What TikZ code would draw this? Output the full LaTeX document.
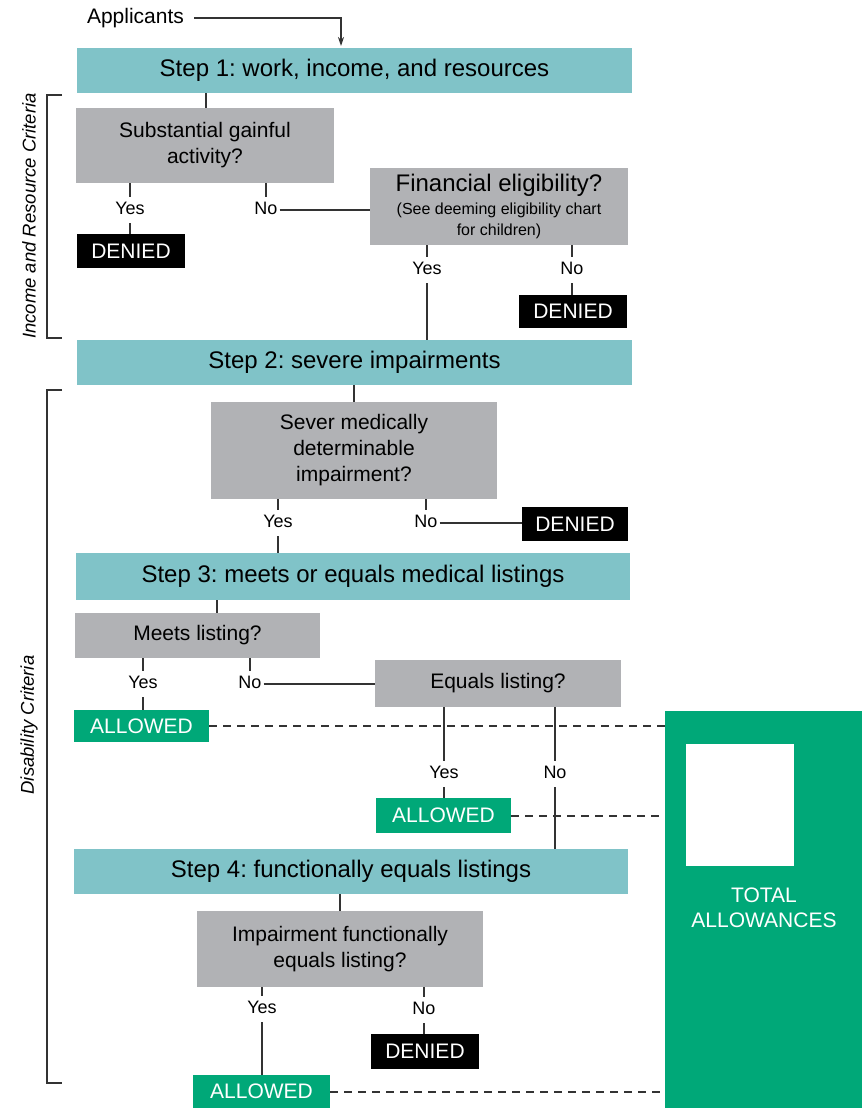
\documentclass[tikz,border=0pt]{standalone}
\usepackage{fontspec}
\setmainfont{Liberation Sans}
\usetikzlibrary{arrows.meta}
\definecolor{tealc}{HTML}{80C3C8}
\definecolor{grayc}{HTML}{B1B2B5}
\definecolor{greenc}{HTML}{00A878}
\definecolor{linec}{HTML}{333333}
\frenchspacing
\begin{document}
\begin{tikzpicture}[x=1pt,y=-1pt,
  box/.style={inner sep=0pt, align=center, text=black},
  stepbox/.style={box, fill=tealc, font=\fontsize{24}{28}\selectfont},
  qbox/.style={box, fill=grayc, font=\fontsize{21}{26}\selectfont},
  denbox/.style={box, fill=black, text=white, font=\fontsize{21}{24}\selectfont},
  allbox/.style={box, fill=greenc, text=white, font=\fontsize{21}{24}\selectfont},
  lab/.style={inner xsep=2pt, inner ysep=5pt, text height=12.5pt, text depth=3.5pt, font=\fontsize{18}{20}\selectfont},
  conn/.style={draw=linec, line width=1.5pt},
  dashconn/.style={draw=linec, line width=2pt, dash pattern=on 8pt off 6pt},
  crit/.style={rotate=90, font=\fontsize{18.5}{22}\selectfont\itshape}
]
\useasboundingbox (0,0) rectangle (864,1112);

% boxes
\node[stepbox, minimum width=555pt, minimum height=45pt] (step1) at (354.5,70.5) {Step 1: work, income, and resources};
\node[qbox, minimum width=258pt, minimum height=75pt] (sga) at (205,145.5) {Substantial gainful\\activity?};
\node[denbox, minimum width=108pt, minimum height=34pt] (den1) at (131,251) {DENIED};
\node[qbox, minimum width=258pt, minimum height=77pt] (fin) at (499,206.5)
  {{\fontsize{24}{26}\selectfont Financial eligibility?}\\[-3pt]
   {\fontsize{16}{19}\selectfont (See deeming eligibility chart}\\[-5pt]
   {\fontsize{16}{19}\selectfont for children)}};
\node[denbox, minimum width=108pt, minimum height=33pt] (den2) at (573,311.5) {DENIED};
\node[stepbox, minimum width=555pt, minimum height=45pt] (step2) at (354.5,362.5) {Step 2: severe impairments};
\node[qbox, minimum width=286pt, minimum height=97pt] (sev) at (354,450.5) {Sever medically\\determinable\\impairment?};
\node[denbox, minimum width=106pt, minimum height=34pt] (den3) at (575,524) {DENIED};
\node[stepbox, minimum width=554pt, minimum height=47pt] (step3) at (353,576.5) {Step 3: meets or equals medical listings};
\node[qbox, minimum width=245pt, minimum height=45pt] (meets) at (197.5,635.5) {Meets listing?};
\node[allbox, minimum width=135pt, minimum height=32pt] (all1) at (141.5,726) {ALLOWED};
\node[qbox, minimum width=246pt, minimum height=47pt] (eq) at (498,683.5) {Equals listing?};
\node[allbox, minimum width=135pt, minimum height=35pt] (all2) at (443.5,815.5) {ALLOWED};
\node[stepbox, minimum width=554pt, minimum height=45pt] (step4) at (351,871.5) {Step 4: functionally equals listings};
\node[qbox, minimum width=286pt, minimum height=76pt] (imp) at (340,949) {Impairment functionally\\equals listing?};
\node[allbox, minimum width=137pt, minimum height=33pt] (all3) at (261.5,1091.5) {ALLOWED};
\node[denbox, minimum width=108pt, minimum height=35pt] (den4) at (425,1051.5) {DENIED};
\node[box, fill=greenc, minimum width=197pt, minimum height=397pt] (total) at (763.5,909.5) {};
\node[box, fill=white, minimum width=108pt, minimum height=122pt] (win) at (740,805) {};
\node[box, text=white, font=\fontsize{21}{25}\selectfont] (totlab) at (764,908) {TOTAL\\ALLOWANCES};

% applicants
\node[inner sep=2pt, font=\fontsize{21}{24}\selectfont] (app) at (135.5,18) {Applicants};
\coordinate (ain) at (341,46);
\draw[conn, -{Stealth[length=9pt,width=6pt]}] (app.east) ++(8pt,0) -| (ain);

% labels
\node[lab] (yes1) at (130,210) {Yes};
\node[lab] (no1) at (266,210) {No};
\node[lab] (yes2) at (427,270) {Yes};
\node[lab] (no2) at (572,270) {No};
\node[lab] (yes3) at (278,523) {Yes};
\node[lab] (no3) at (426,523) {No};
\node[lab] (yes4) at (143,684) {Yes};
\node[lab] (no4) at (250,684) {No};
\node[lab] (yes5) at (444,774) {Yes};
\node[lab] (no5) at (555,774) {No};
\node[lab] (yes6) at (262,1009) {Yes};
\node[lab] (no6) at (424,1010) {No};

% connectors
\draw[conn] (step1.south -| 206,0) -- (sga.north -| 206,0);
\draw[conn] (sga.south -| yes1) -- (yes1.north);
\draw[conn] (yes1.south) -- (den1.north -| yes1);
\draw[conn] (sga.south -| no1) -- (no1.north);
\draw[conn] (no1.east) -- (fin.west |- no1.east);
\draw[conn] (fin.south -| yes2) -- (yes2.north);
\draw[conn] (yes2.south) -- (step2.north -| yes2);
\draw[conn] (fin.south -| no2) -- (no2.north);
\draw[conn] (no2.south) -- (den2.north -| no2);
\draw[conn] (step2.south -| sev.north) -- (sev.north);
\draw[conn] (sev.south -| yes3) -- (yes3.north);
\draw[conn] (yes3.south) -- (step3.north -| yes3);
\draw[conn] (sev.south -| no3) -- (no3.north);
\draw[conn] (no3.east) -- (den3.west |- no3.east);
\draw[conn] (step3.south -| 217,0) -- (meets.north -| 217,0);
\draw[conn] (meets.south -| yes4) -- (yes4.north);
\draw[conn] (yes4.south) -- (all1.north -| yes4);
\draw[conn] (meets.south -| no4) -- (no4.north);
\draw[conn] (no4.east) -- (eq.west |- no4.east);
\draw[conn] (eq.south -| yes5) -- (yes5.north);
\draw[conn] (yes5.south) -- (all2.north -| yes5);
\draw[conn] (eq.south -| no5) -- (no5.north);
\draw[conn] (no5.south) -- (step4.north -| no5);
\draw[conn] (step4.south -| imp.north) -- (imp.north);
\draw[conn] (imp.south -| yes6) -- (yes6.north);
\draw[conn] (yes6.south) -- (all3.north -| yes6);
\draw[conn] (imp.south -| no6) -- (no6.north);
\draw[conn] (no6.south) -- (den4.north -| no6);

% dashed to total
\draw[dashconn] (all1.east) -- (total.west |- all1.east);
\draw[dashconn] (all2.east) -- (total.west |- all2.east);
\draw[dashconn] (all3.east) -- (total.west |- all3.east);

% brackets
\draw[conn, line width=2pt] (62,95) -- (47,95) -- (47,338) -- (62,338);
\draw[conn, line width=2pt] (62,390) -- (47,390) -- (47,1083) -- (62,1083);
\node[crit] (crit1) at (29,216) {Income and Resource Criteria};
\node[crit] (crit2) at (29,725) {Disability Criteria};
\end{tikzpicture}
\end{document}
